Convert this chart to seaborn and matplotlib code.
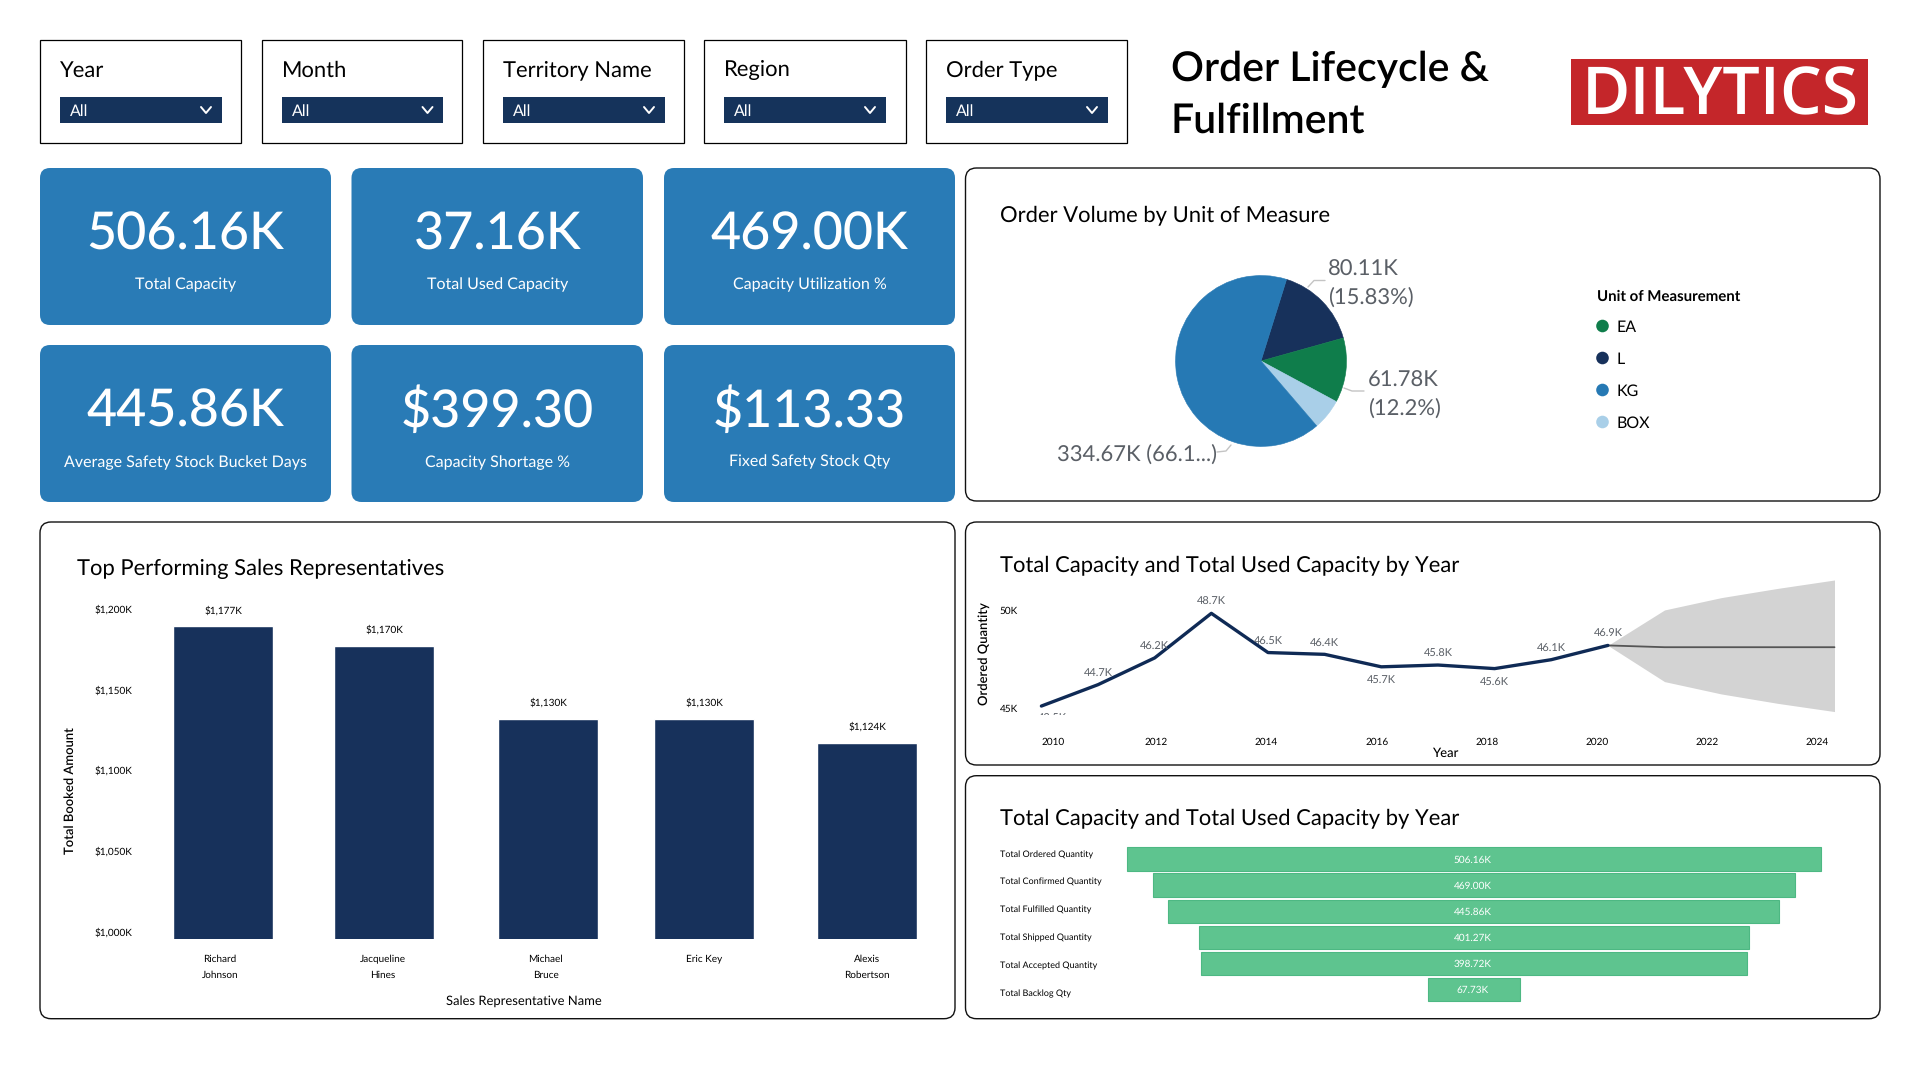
import matplotlib
matplotlib.use("Agg")
import matplotlib.pyplot as plt
import numpy as np
import pandas as pd
import seaborn as sns
from matplotlib.patches import FancyBboxPatch, Rectangle, Circle
from matplotlib.font_manager import FontProperties
from matplotlib.textpath import TextPath

# ---------- data ----------
filters = ["Year", "Month", "Territory Name", "Region", "Order Type"]
kpi_values = ["506.16K", "37.16K", "469.00K", "445.86K", "$399.30", "$113.33"]
kpi_labels = ["Total Capacity", "Total Used Capacity", "Capacity Utilization %",
              "Average Safety Stock Bucket Days", "Capacity Shortage %", "Fixed Safety Stock Qty"]

pie_units = ["L", "EA", "BOX", "KG"]
pie_values = [80.11, 61.78, 29.60, 334.67]
legend_units = ["EA", "L", "KG", "BOX"]

reps = ["Richard\nJohnson", "Jacqueline\nHines", "Michael\nBruce", "Eric Key", "Alexis\nRobertson"]
rep_bar_heights = [1189, 1177, 1132, 1132, 1117]
rep_labels = ["$1,177K", "$1,170K", "$1,130K", "$1,130K", "$1,124K"]
rep_ticks = [1000, 1050, 1100, 1150, 1200]
rep_tick_labels = ["$1,000K", "$1,050K", "$1,100K", "$1,150K", "$1,200K"]

years = [2010, 2011, 2012, 2013, 2014, 2015, 2016, 2017, 2018, 2019, 2020]
qty = [43.5, 44.7, 46.2, 48.7, 46.5, 46.4, 45.7, 45.8, 45.6, 46.1, 46.9]
qty_labels = ["43.5K", "44.7K", "46.2K", "48.7K", "46.5K", "46.4K", "45.7K", "45.8K", "45.6K", "46.1K", "46.9K"]
fc_years = [2020, 2021, 2022, 2023, 2024]
fc_mid = [46.9, 46.8, 46.8, 46.8, 46.8]
fc_low = [46.9, 44.87, 44.18, 43.65, 43.19]
fc_high = [46.9, 48.89, 49.58, 50.1, 50.57]

funnel_names = ["Total Ordered Quantity", "Total Confirmed Quantity", "Total Fulfilled Quantity",
                "Total Shipped Quantity", "Total Accepted Quantity", "Total Backlog Qty"]
funnel_values = [506.16, 469.00, 445.86, 401.27, 398.72, 67.73]
funnel_labels = ["506.16K", "469.00K", "445.86K", "401.27K", "398.72K", "67.73K"]

# ---------- style ----------
NAVY = "#17315b"
BLUE = "#297bb6"
GREEN = "#5ec48f"
sns.set_theme(style="white")
plt.rcParams["font.family"] = ["Lato", "DejaVu Sans"]
plt.rcParams["text.hinting"] = "no_hinting"
plt.rcParams["text.hinting_factor"] = 1


def fs(s, width_px, family="Lato", weight="normal"):
    """point size at which s is width_px wide at 100 dpi"""
    w = TextPath((0, 0), s, size=100, prop=FontProperties(family=family, weight=weight)).get_extents().width
    return width_px / w * 100 * 0.72


fig = plt.figure(figsize=(19.2, 10.8), dpi=100, facecolor="white")
bg = fig.add_axes([0, 0, 1, 1])
bg.set_xlim(0, 1920)
bg.set_ylim(1080, 0)
bg.axis("off")


def axes_px(l, t, r, b):
    a = fig.add_axes([l / 1920, 1 - b / 1080, (r - l) / 1920, (b - t) / 1080])
    a.patch.set_alpha(0)
    return a


def T(x, y, s, size, color="black", ha="left", **kw):
    bg.text(x, y + 1.2, s, fontsize=size, color=color, ha=ha, va="center", **kw)


def panel(l, t, r, b):
    bg.add_patch(FancyBboxPatch((l, t), r - l, b - t, boxstyle="round,pad=0,rounding_size=11",
                                fc="white", ec="#111111", lw=1.0))


# ---------- filters ----------
filter_boxes = [(40, 241), (261.5, 462), (483, 684), (704, 905.5), (926, 1126.5)]
fsize = fs("Territory Name", 149)
for name, (l, r) in zip(filters, filter_boxes):
    bg.add_patch(Rectangle((l, 40), r - l, 103, fc="white", ec="black", lw=0.9))
    T(l + 20, 69, name, fsize)
    bg.add_patch(Rectangle((l + 20, 97), 161.5, 26, fc="#15335b", ec="none"))
    T(l + 30, 110.5, "All", fs("All", 17), "white")
    cx = l + 166
    bg.plot([cx - 5, cx, cx + 5], [107, 113, 107], color="white", lw=1.4)

# ---------- heading and logo ----------
tsize = fs("Order Lifecycle &", 314, weight="semibold")
T(1171, 68, "Order Lifecycle &", tsize, weight="semibold")
T(1171, 120, "Fulfillment", tsize, weight="semibold")
bg.add_patch(Rectangle((1571, 59), 297, 66, fc="#c4262a", ec="none"))
T(1720, 96, "DILYTICS", fs("DILYTICS", 268, "Open Sans", "semibold"), "white", ha="center",
  family="Open Sans", weight="semibold")

# ---------- KPI cards ----------
card_x = [(40, 331), (351.5, 643), (664, 955)]
card_y = [(168, 325), (345, 502)]
vsize = fs("506.16K", 193, weight="medium") * 1.02
lsize = fs("Average Safety Stock Bucket Days", 239.4)
k = 0
for t, b in card_y:
    for l, r in card_x:
        bg.add_patch(FancyBboxPatch((l, t), r - l, b - t, boxstyle="round,pad=0,rounding_size=10",
                                    fc=BLUE, ec="none"))
        T((l + r) / 2, t + 65.5, kpi_values[k], vsize, "white", ha="center", weight="medium")
        T((l + r) / 2, t + 116, kpi_labels[k], lsize, "white", ha="center")
        k += 1

# ---------- panels ----------
panel(965.5, 168, 1880, 501)
panel(40, 522, 955, 1018.7)
panel(965.5, 522, 1880, 765)
panel(965.5, 775.7, 1880, 1018.7)
psize = fs("Order Volume by Unit of Measure", 332)
T(1000, 214, "Order Volume by Unit of Measure", psize)
T(77, 568, "Top Performing Sales Representatives", psize)
T(1000, 564, "Total Capacity and Total Used Capacity by Year", psize)
T(1000, 817, "Total Capacity and Total Used Capacity by Year", psize)

# ---------- pie ----------
ax = axes_px(1261 - 85.5, 361 - 85.5, 1261 + 85.5, 361 + 85.5)
pie_colors = [NAVY, "#0f7d4b", "#a9cfe8", "#2679b4"]
wedges, _ = ax.pie(pie_values, colors=pie_colors, startangle=72.6, counterclock=False, radius=1)
for w, c in zip(wedges, pie_colors):
    w.set_edgecolor(c)
    w.set_linewidth(0.4)
ax.set_xlim(-1, 1)
ax.set_ylim(-1, 1)
GREY = "#5a5f66"
pl = fs("334.67K (66.1...)", 156)
T(1328, 268, "80.11K", pl, GREY)
T(1328, 296, "(15.83%)", pl, GREY)
T(1368, 379, "61.78K", pl, GREY)
T(1368, 407, "(12.2%)", pl, GREY)
T(1057, 453, "334.67K (66.1...)", pl, GREY)
LEAD = "#c4c4c4"
bg.plot([1308, 1314, 1325], [287, 280.5, 280.5], color=LEAD, lw=1)
bg.plot([1344, 1352, 1364], [388, 391, 391], color=LEAD, lw=1)
bg.plot([1217, 1226, 1231], [452, 451, 445], color=LEAD, lw=1)
T(1597, 295, "Unit of Measurement", fs("Unit of Measurement", 143, weight="bold"), weight="bold")
leg_c = {"EA": "#0f7d4b", "L": NAVY, "KG": "#2679b4", "BOX": "#a9cfe8"}
for u, y in zip(legend_units, [326, 358, 390, 422]):
    bg.add_patch(Circle((1602.5, y), 6.3, fc=leg_c[u], ec="none"))
    T(1617, y, u, fs("BOX", 32))

# ---------- bars ----------
bar_centers = [223, 384, 548, 704, 867]
name_centers = [220, 383, 545.6, 704, 867]
ax = axes_px(140, 600, 950, 939)
df = pd.DataFrame({"pos": bar_centers, "amt": rep_bar_heights})
sns.barplot(data=df, x="pos", y="amt", color=NAVY, saturation=1, width=100 / 156, native_scale=True, ax=ax)
ax.set_xlim(140, 950)
ax.set_ylim(1000 + (931.7 - 939) / 1.615, 1000 + (931.7 - 600) / 1.615)
ax.set_yticks(rep_ticks, rep_tick_labels)
ax.set_xticks(name_centers, reps)
bsz = fs("$1,200K", 37)
ax.tick_params(axis="y", length=0, pad=5.8, labelsize=bsz, labelcolor="black")
ax.tick_params(axis="x", length=0, pad=11.5, labelsize=fs("Jacqueline", 44), labelcolor="black")
for lab in ax.get_xticklabels():
    lab.set_linespacing(1.95)
ax.bar_label(ax.containers[0], labels=rep_labels, padding=8, fontsize=bsz, color="black")
sns.despine(ax=ax, left=True, bottom=True)
ax.set_xlabel("Sales Representative Name", fontsize=fs("Sales Representative Name", 159), color="black", va="center")
ax.xaxis.set_label_coords(523.6, 1001, transform=bg.transData)
ax.set_ylabel("Total Booked Amount", fontsize=fs("Total Booked Amount", 127, weight="semibold"), color="black",
              va="center", weight="semibold")
ax.yaxis.set_label_coords(70.5, 791, transform=bg.transData)

# ---------- line ----------
ax = axes_px(1026, 577, 1860, 714.7)
sns.lineplot(x=fc_years, y=fc_mid, color="#555555", lw=1.3, ax=ax)
ax.fill_between(fc_years, fc_low, fc_high, color="#d3d3d3", lw=0, zorder=1)
sns.lineplot(x=years, y=qty, color="#0f2a55", lw=2.4, ax=ax)
ax.set_xlim(2010 + (1026 - 1041.4) / 56.65, 2010 + (1860 - 1041.4) / 56.65)
ax.set_ylim(48.7 - (714.7 - 613.33) / 17.83, 48.7 + (613.33 - 577) / 17.83)
tick_pos = [2010.2, 2012.02, 2013.97, 2015.92, 2017.86, 2019.81, 2021.76, 2023.7]
tick_years = ["2010", "2012", "2014", "2016", "2018", "2020", "2022", "2024"]
ax.set_xticks(tick_pos, tick_years)
ax.set_yticks([43.35, 48.85], ["45K", "50K"])
ax.tick_params(axis="x", length=0, pad=16.5, labelsize=fs("2010", 21.5), labelcolor="black")
ax.tick_params(axis="y", length=0, pad=5.8, labelsize=fs("50K", 18), labelcolor="black")
dl = fs("48.7K", 30)
for i, (x, v, s) in enumerate(zip(years, qty, qty_labels)):
    below = s in ("45.7K", "45.6K", "43.5K")
    off = 0.72 if below else -0.64
    ax.text(x + (0.2 if i == 0 else 0), v + (-off), s, fontsize=dl, color=GREY, ha="center", va="center", clip_on=True)
sns.despine(ax=ax, left=True, bottom=True)
ax.set_xlabel("Year", fontsize=fs("Year", 26, weight="medium"), color="black", va="center", weight="medium")
ax.xaxis.set_label_coords(1445.6, 753, transform=bg.transData)
ax.set_ylabel("Ordered Quantity", fontsize=fs("Ordered Quantity", 103, weight="semibold"), color="black",
              va="center", weight="semibold")
ax.yaxis.set_label_coords(984.5, 654, transform=bg.transData)

# ---------- funnel ----------
ax = axes_px(1120, 845, 1840, 1005)
vals = np.array(funnel_values)
sns.barplot(x=vals, y=funnel_names, left=-vals / 2, color=GREEN, saturation=1, width=0.89,
            edgecolor="#4db883", linewidth=0.8, ax=ax)
ax.set_xlim((1120 - 1473.9) / 1.37, (1840 - 1473.9) / 1.37)
ax.set_ylim((1005 - 859) / 26.1, (845 - 859) / 26.1)
ax.set_xticks([])
ax.set_yticks([-0.2, 0.86, 1.93, 2.99, 4.06, 5.12], funnel_names)
ax.tick_params(axis="y", length=0, pad=86.4, labelsize=fs("Total Confirmed Quantity", 106.6), labelcolor="black")
for lab in ax.get_yticklabels():
    lab.set_ha("left")
fv = fs("506.16K", 36)
for i, s in enumerate(funnel_labels):
    ax.text(-1, i + 0.03, s, color="white", fontsize=fv, ha="center", va="center")
sns.despine(ax=ax, left=True, bottom=True)
ax.set_xlabel("")
ax.set_ylabel("")

fig.savefig("out.png", dpi=100, facecolor="white")
